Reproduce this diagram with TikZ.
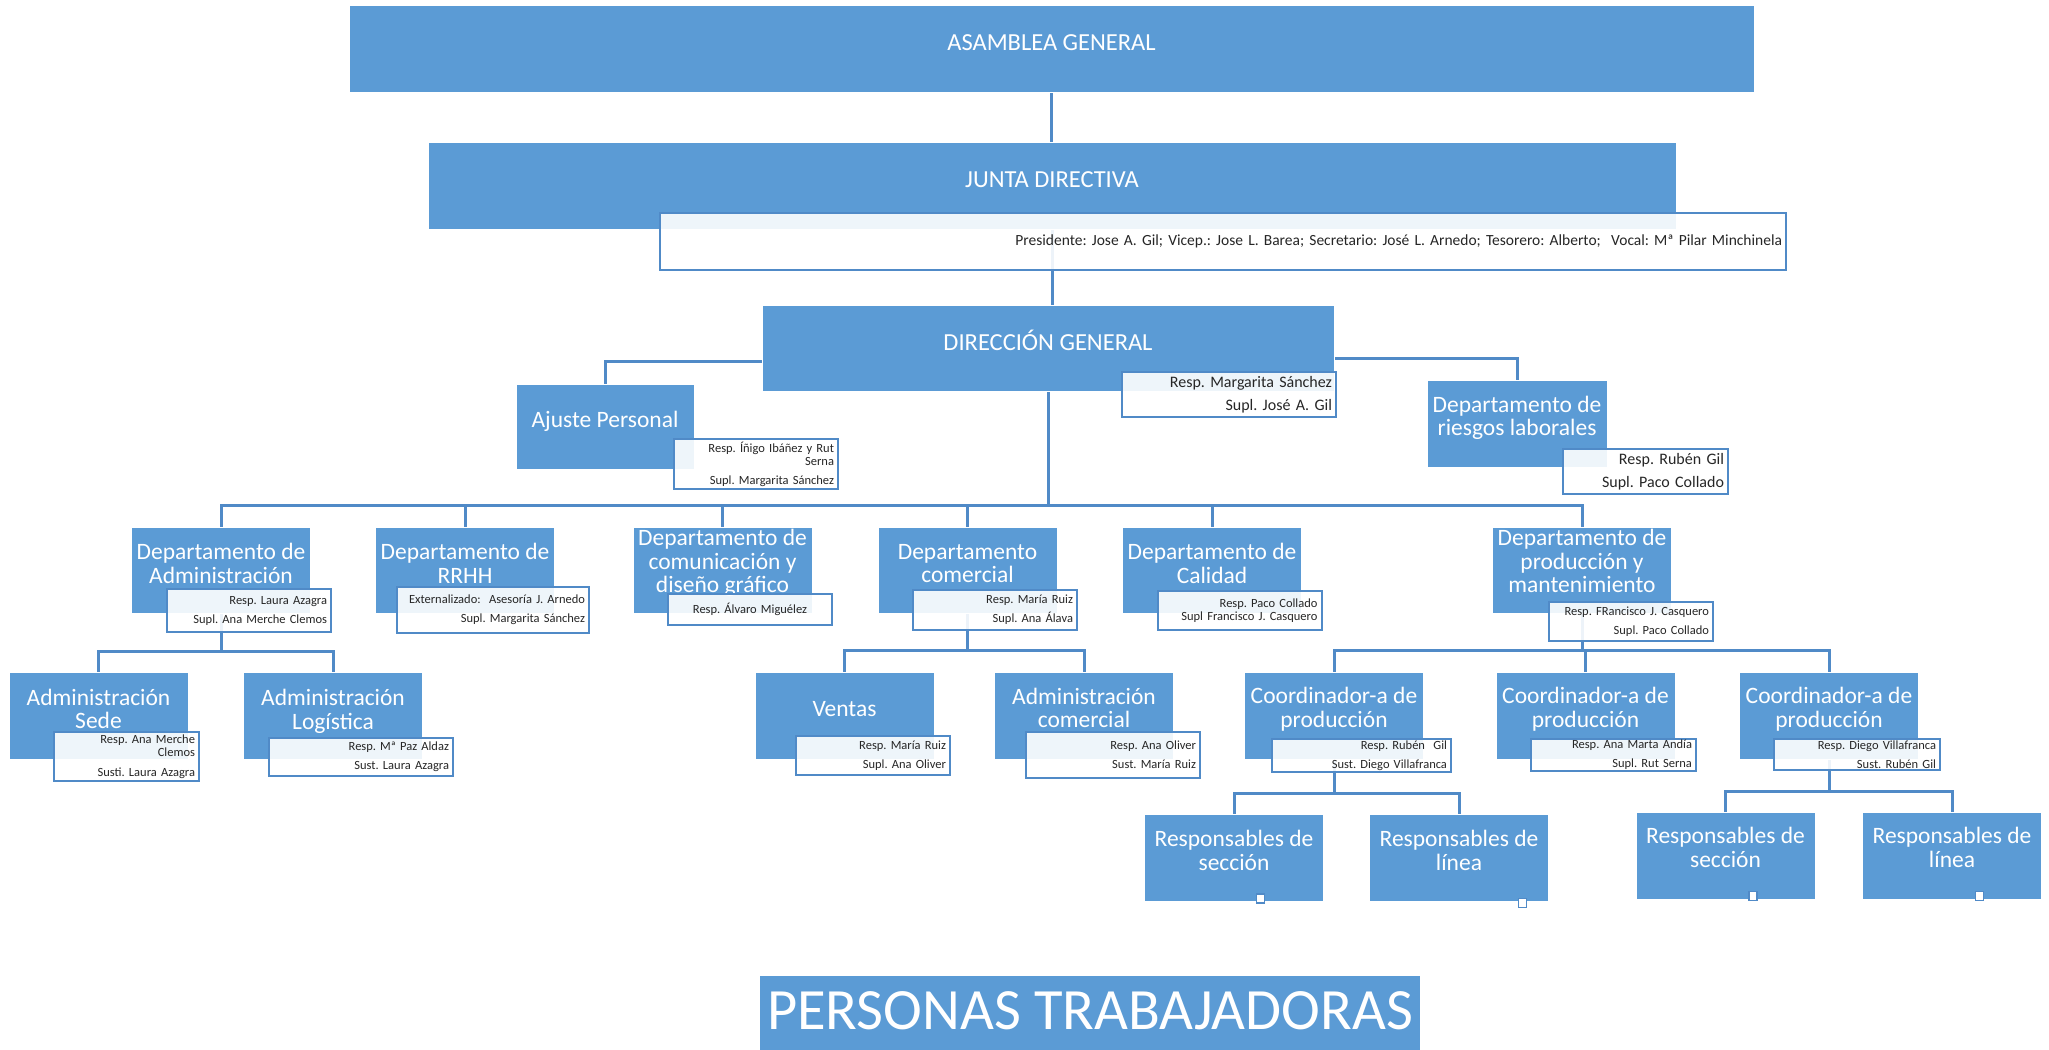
\documentclass[tikz,border=0pt]{standalone}
\usepackage{fontspec}
\setmainfont{Carlito}
\newfontfamily\letraficha[WordSpace=2.4]{Carlito}
\usepackage{tikz}
\usetikzlibrary{backgrounds}
\definecolor{AzulCaja}{RGB}{91,155,213}
\definecolor{AzulLinea}{RGB}{80,138,199}
\frenchspacing

\begin{document}
\begin{tikzpicture}[x=1pt,y=-1pt,
  caja/.style n args={2}{fill=AzulCaja,draw=white,line width=.8pt,minimum width=#1pt,minimum height=#2pt,inner sep=0pt},
  rotulo/.style={text=white,align=center,inner sep=0pt,font=\fontsize{23.5}{23.5}\selectfont},
  ficha/.style n args={2}{fill=white,fill opacity=.9,text opacity=1,draw=AzulLinea,line width=2pt,text width=#1pt,minimum height=#2pt,inner xsep=4pt,inner ysep=1pt,align=right,text=black!85,font=\letraficha\fontsize{12.5}{19}\selectfont},
  enlace/.style={draw=AzulLinea,line width=3pt},
  marca/.style={fill=white,draw=AzulLinea,line width=1.5pt,minimum width=8pt,minimum height=9pt,inner sep=0pt}]
\useasboundingbox (0,0) rectangle (2049,1049);

% cajas
\node[caja={1405}{87}] (asamblea) at (1051.5,48.5) {};
\node[caja={1248}{87}] (junta) at (1052,185.5) {};
\node[caja={572}{86}] (dg) at (1048,348) {};
\node[caja={178}{85}] (ajuste) at (605,426.5) {};
\node[caja={180}{87}] (riesgos) at (1517,423.5) {};
\node[caja={661}{80}] (personas) at (1090,1015) {};
\foreach \n/\x in {admin/221,rrhh/465,comun/722.5,comer/967.5,calid/1212,produ/1582}
   \node[caja={179}{86}] (\n) at (\x,570) {};
\foreach \n/\x in {sede/98.5,logis/333,ventas/844.5,admcom/1084,coord1/1334,coord2/1585.5,coord3/1829}
   \node[caja={179}{87}] (\n) at (\x,715.5) {};
\foreach \n/\x/\y in {secc1/1234/857.5,linea1/1459/857.5,secc2/1725.5/855.5,linea2/1952/855.5}
   \node[caja={179}{87}] (\n) at (\x,\y) {};

% rotulos
\foreach \n/\y/\t in {asamblea/42.5/{ASAMBLEA GENERAL},junta/179.5/{JUNTA DIRECTIVA},dg/340/{DIRECCIÓN GENERAL}}
   \node[rotulo,font=\fontsize{24.5}{24.5}\selectfont] (\n-t) at (\n.center |- 0,\y) {\t};
\foreach \n/\y/\t in {ajuste/421/{Ajuste Personal},riesgos/418/{Departamento de\\riesgos laborales},
   admin/563.5/{Departamento de\\Administración},rrhh/563.5/{Departamento de\\RRHH},
   comun/563.3/{Departamento de\\comunicación y\\diseño gráfico},comer/563.5/{Departamento\\comercial},
   calid/563.5/{Departamento de\\Calidad},produ/561/{Departamento de\\producción y\\mantenimiento},
   sede/709/{Administración\\Sede},logis/711.3/{Administración\\Logística},ventas/708.7/{Ventas},
   admcom/708/{Administración\\comercial},coord1/709.3/{Coordinador-a de\\producción},
   coord2/709.3/{Coordinador-a de\\producción},coord3/709.3/{Coordinador-a de\\producción},
   secc1/850.5/{Responsables de\\sección},linea1/850.5/{Responsables de\\línea},
   secc2/847.5/{Responsables de\\sección},linea2/847.5/{Responsables de\\línea}}
   \node[rotulo] (\n-t) at (\n.center |- 0,\y) {\t};
\node[rotulo,font=\fontsize{58.5}{58.5}\selectfont] (personas-t) at (personas.center |- 0,1011) {PERSONAS TRABAJADORAS};

% fichas
\node[ficha={1118}{57},font=\rmfamily\fontsize{15.5}{17}\selectfont] (junta-i) at (1223,241.5)
   {Presidente: Jose A. Gil; Vicep.: Jose L. Barea; Secretario: José L. Arnedo; Tesorero: Alberto;\ \ Vocal: Mª Pilar Minchinela};
\node[ficha={206}{45},font=\rmfamily\fontsize{16}{23}\selectfont] (dg-i) at (1229,394.5) {Resp. Margarita Sánchez\\Supl. José A. Gil};
\node[ficha={157}{45},font=\rmfamily\fontsize{16}{23}\selectfont] (riesgos-i) at (1645.5,471.5) {Resp. Rubén Gil\\Supl. Paco Collado};
\node[ficha={156}{50},font=\letraficha\fontsize{12.5}{13}\selectfont] (ajuste-i) at (756,464)
   {Resp. Íñigo Ibáñez y Rut\\Serna\\[6pt]Supl. Margarita Sánchez};
\node[ficha={137.5}{49},font=\letraficha\fontsize{12.5}{13}\selectfont] (sede-i) at (126.25,756.5)
   {Resp. Ana Merche\\Clemos\\[7pt]Susti. Laura Azagra};
\node[ficha={156}{31},align=center] (comun-i) at (750,609.5) {Resp. Álvaro Miguélez};
\node[ficha={156}{39},font=\rmfamily\fontsize{12.5}{13}\selectfont] (calid-i) at (1239.5,610.5)
   {Resp. Paco Collado\\Supl Francisco J. Casquero};
\foreach \n/\x/\y/\w/\h/\t in {
   admin/248.75/610.5/156.5/43/{Resp. Laura Azagra\\Supl. Ana Merche Clemos},
   rrhh/493/610/184/46/{Externalizado:\ \ Asesoría J. Arnedo\\Supl. Margarita Sánchez},
   comer/994.75/610/156.5/40/{Resp. María Ruiz\\Supl. Ana Álava},
   produ/1631/621.5/156/39/{Resp. FRancisco J. Casquero\\Supl. Paco Collado},
   logis/360.75/757/176.5/38/{Resp. Mª Paz Aldaz\\Sust. Laura Azagra},
   ventas/872.75/755.5/146.5/39/{Resp. María Ruiz\\Supl. Ana Oliver},
   admcom/1113/755/166/46/{Resp. Ana Oliver\\Sust. María Ruiz},
   coord1/1361.5/755.5/171/33/{Resp. Rubén\ \ Gil\\Sust. Diego Villafranca},
   coord2/1613.5/755/157/32/{Resp. Ana Marta Andía\\Supl. Rut Serna},
   coord3/1857/754.5/158/31/{Resp. Diego Villafranca\\Sust. Rubén Gil}}
   \node[ficha={\w}{\h}] (\n-i) at (\x,\y) {\t};

\foreach \n/\x/\y in {m1/1260.6/898.5,m2/1522.7/903,m3/1753/896,m4/1979.6/896}
   \node[marca] (\n) at (\x,\y) {};

% enlaces
\begin{scope}[on background layer]
\draw[enlace] (asamblea.south) -- (asamblea.south |- junta.north);
\draw[enlace] (junta.south) -- (junta.south |- dg.north);
\draw[enlace] ([yshift=-13pt]dg.west) -| (ajuste.north);
\draw[enlace] ([yshift=-10pt]dg.east) -| (riesgos.north);
\coordinate (bus) at (1048,505);
\draw[enlace] (dg.south) -- (bus);
\foreach \n in {admin,rrhh,comun,comer,calid,produ}
   \draw[enlace] (bus) -| (\n.north);
\foreach \p/\c/\d in {admin/sede/38,admin/logis/38,comer/ventas/37,comer/admcom/37,
   produ/coord1/37,produ/coord2/37,produ/coord3/37,coord1/secc1/34,coord1/linea1/34,
   coord3/secc2/32,coord3/linea2/32}
   \draw[enlace] (\p.south) -- ++(0,\d) -| (\c.north);
\end{scope}
\end{tikzpicture}
\end{document}
